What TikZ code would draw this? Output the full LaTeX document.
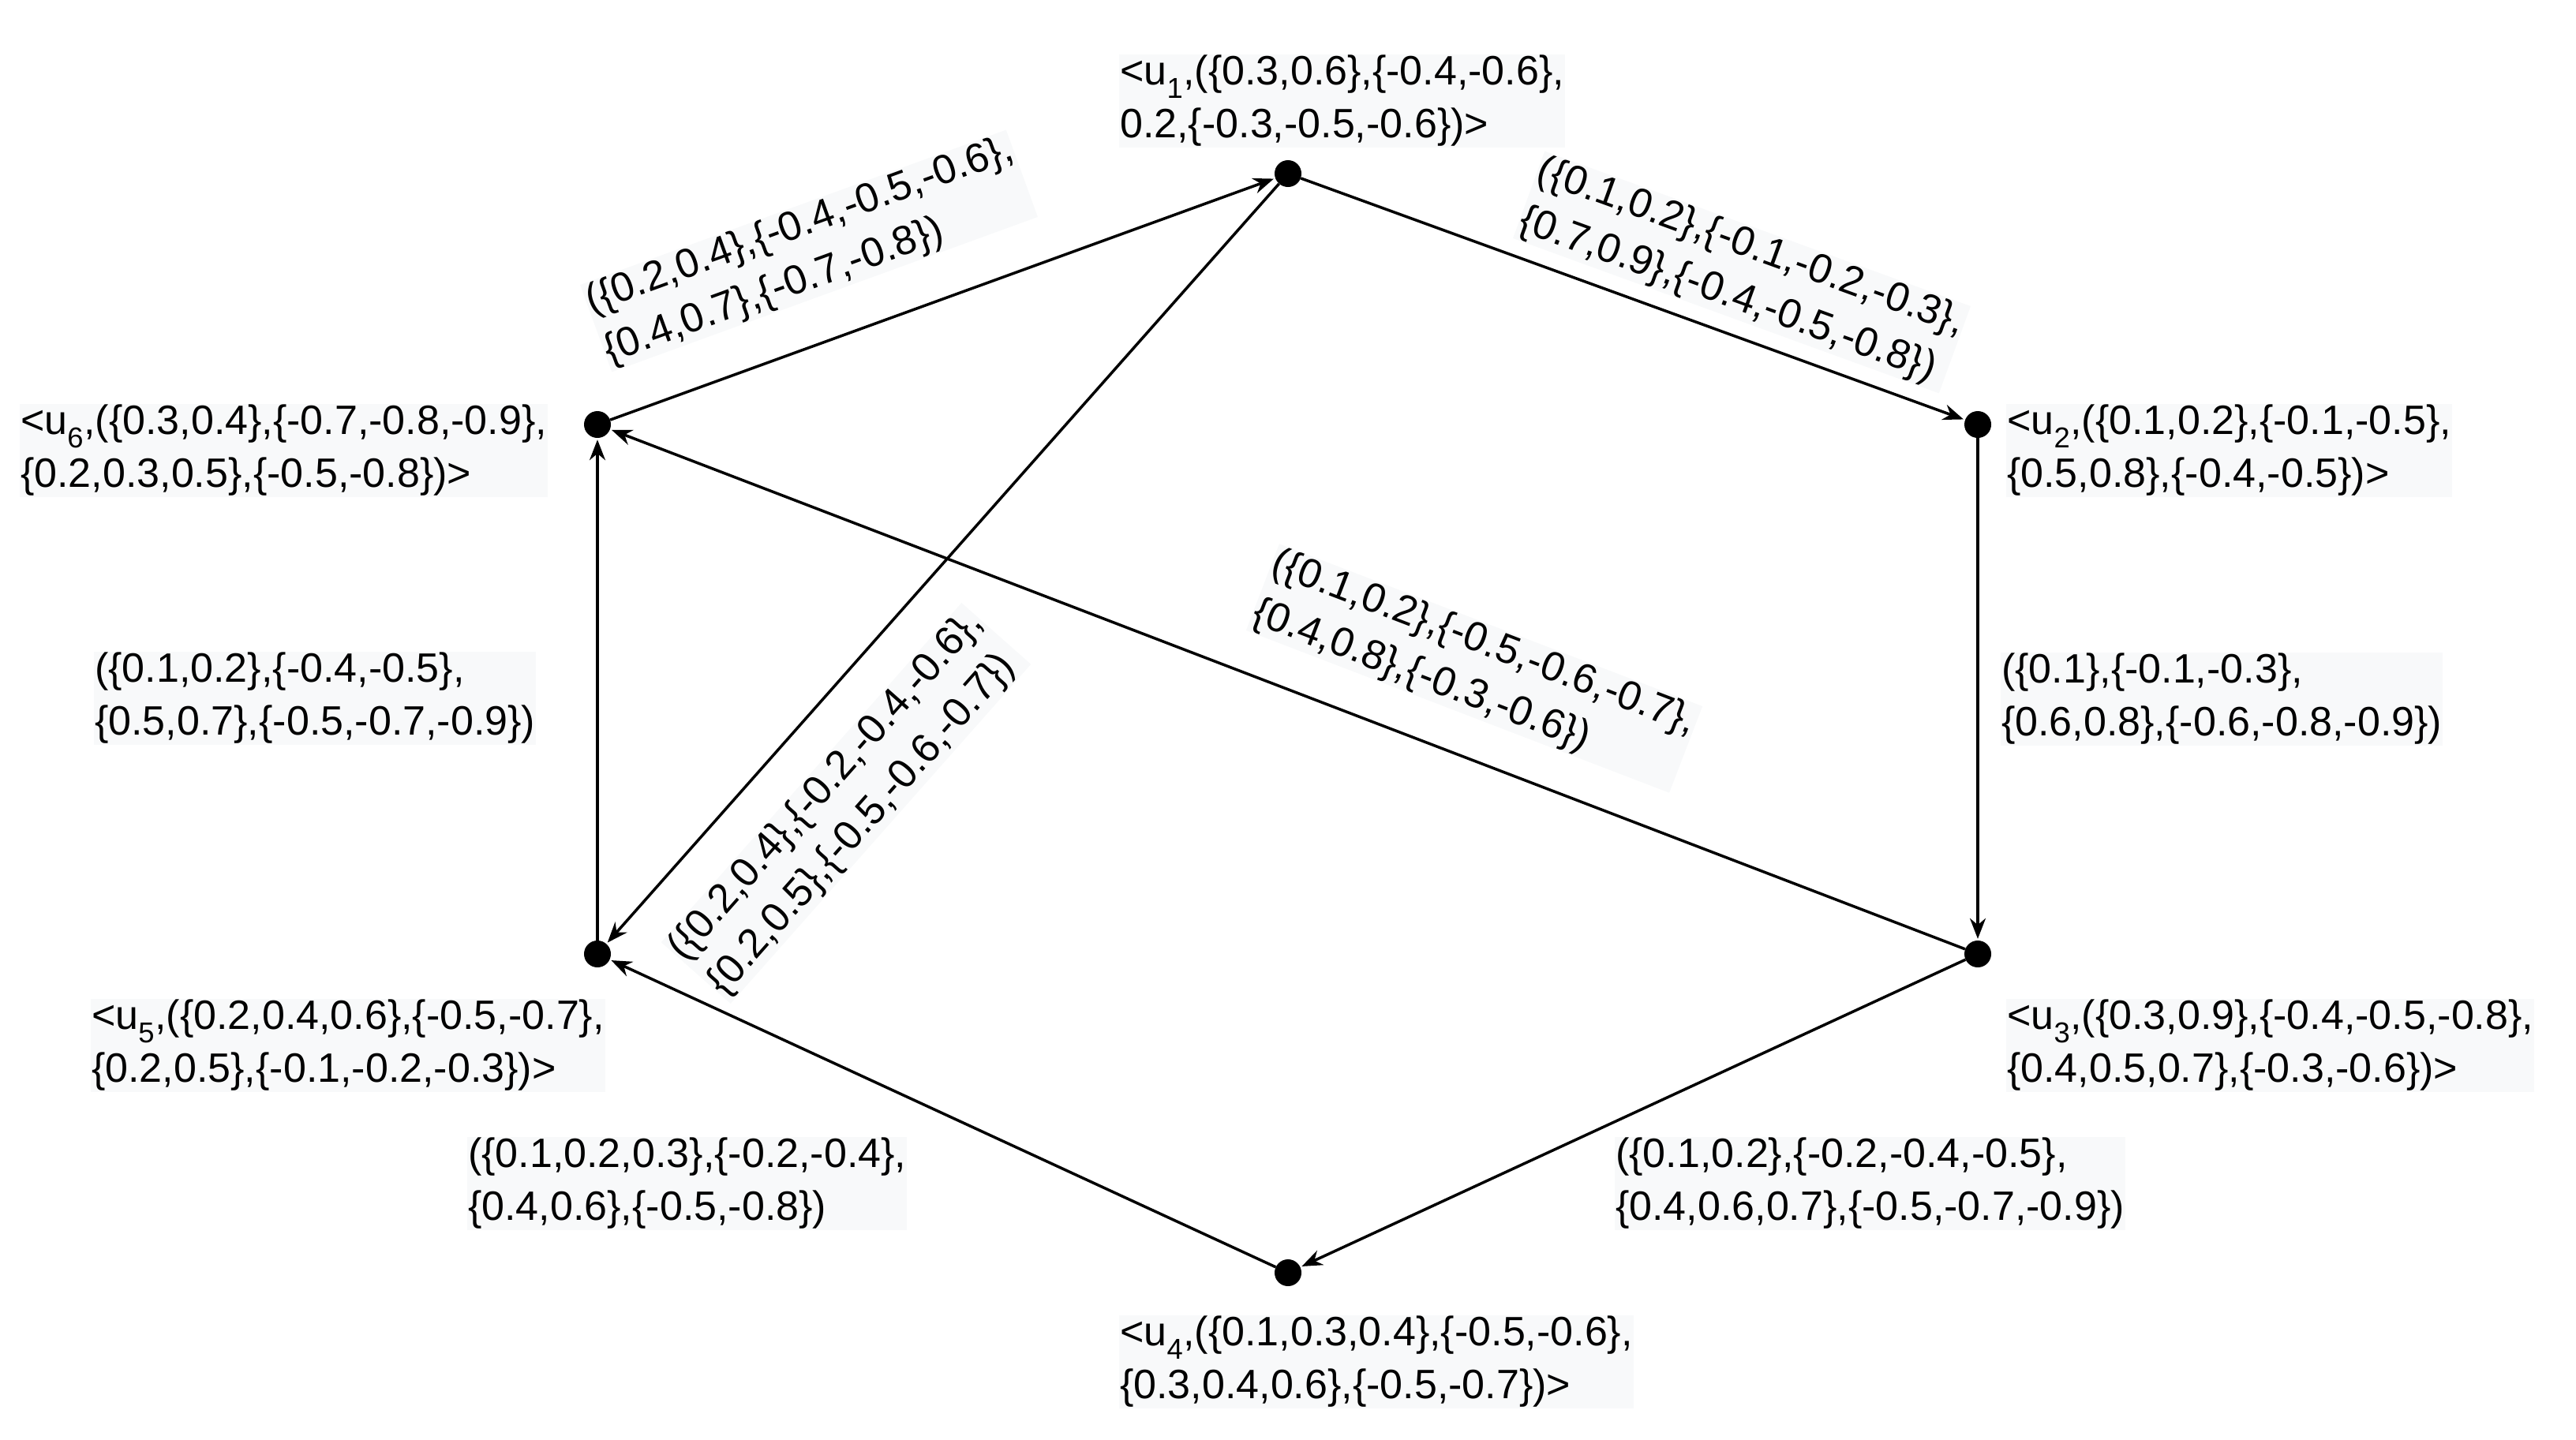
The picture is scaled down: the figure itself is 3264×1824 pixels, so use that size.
\documentclass[tikz,border=0pt]{standalone}
\usepackage{fontspec}
\setmainfont{Liberation Sans}
\usetikzlibrary{arrows.meta}
\definecolor{lbg}{HTML}{F8F9FA}
\begin{document}
\begin{tikzpicture}[x=1pt,y=-1pt,
  vtx/.style={circle,fill=black,inner sep=0pt,minimum size=34pt},
  edge/.style={line width=3.5pt,-{Stealth[length=26pt,width=20pt]},shorten >=2pt},
  lbl/.style={fill=lbg,inner sep=1pt,align=left,font=\fontsize{52}{67}\selectfont}]
\useasboundingbox (0,0) rectangle (3264,1824);
\node[vtx] (u1) at (1632,220) {};
\node[vtx] (u2) at (2506,538) {};
\node[vtx] (u3) at (2506,1209) {};
\node[vtx] (u4) at (1632,1613) {};
\node[vtx] (u5) at (757,1209) {};
\node[vtx] (u6) at (757,538) {};
\node[lbl,anchor=west] (l1) at (1418,128) {<u\textsubscript{1},(\{0.3,0.6\},\{-0.4,-0.6\},\\0.2,\{-0.3,-0.5,-0.6\})>};
\node[lbl,anchor=west] (l2) at (2542,571) {<u\textsubscript{2},(\{0.1,0.2\},\{-0.1,-0.5\},\\\{0.5,0.8\},\{-0.4,-0.5\})>};
\node[lbl,anchor=west] (l3) at (2542,1325) {<u\textsubscript{3},(\{0.3,0.9\},\{-0.4,-0.5,-0.8\},\\\{0.4,0.5,0.7\},\{-0.3,-0.6\})>};
\node[lbl,anchor=west] (l4) at (1418,1726) {<u\textsubscript{4},(\{0.1,0.3,0.4\},\{-0.5,-0.6\},\\\{0.3,0.4,0.6\},\{-0.5,-0.7\})>};
\node[lbl,anchor=west] (l5) at (115,1325) {<u\textsubscript{5},(\{0.2,0.4,0.6\},\{-0.5,-0.7\},\\\{0.2,0.5\},\{-0.1,-0.2,-0.3\})>};
\node[lbl,anchor=west] (l6) at (25,571) {<u\textsubscript{6},(\{0.3,0.4\},\{-0.7,-0.8,-0.9\},\\\{0.2,0.3,0.5\},\{-0.5,-0.8\})>};
\node[lbl,rotate=20] (e61) at (1025,318) {(\{0.2,0.4\},\{-0.4,-0.5,-0.6\},\\\{0.4,0.7\},\{-0.7,-0.8\})};
\node[lbl,rotate=-20] (e12) at (2207,345) {(\{0.1,0.2\},\{-0.1,-0.2,-0.3\},\\\{0.7,0.9\},\{-0.4,-0.5,-0.8\})};
\node[lbl,anchor=west] (e23) at (2535,886) {(\{0.1\},\{-0.1,-0.3\},\\\{0.6,0.8\},\{-0.6,-0.8,-0.9\})};
\node[lbl,rotate=-21] (e36) at (1868,847) {(\{0.1,0.2\},\{-0.5,-0.6,-0.7\},\\\{0.4,0.8\},\{-0.3,-0.6\})};
\node[lbl,rotate=48.5] (e15) at (1072,1018) {(\{0.2,0.4\},\{-0.2,-0.4,-0.6\},\\\{0.2,0.5\},\{-0.5,-0.6,-0.7\})};
\node[lbl,anchor=west] (e65) at (119,885) {(\{0.1,0.2\},\{-0.4,-0.5\},\\\{0.5,0.7\},\{-0.5,-0.7,-0.9\})};
\node[lbl,anchor=west] (e45) at (592,1500) {(\{0.1,0.2,0.3\},\{-0.2,-0.4\},\\\{0.4,0.6\},\{-0.5,-0.8\})};
\node[lbl,anchor=west] (e34) at (2046,1500) {(\{0.1,0.2\},\{-0.2,-0.4,-0.5\},\\\{0.4,0.6,0.7\},\{-0.5,-0.7,-0.9\})};
\draw[edge] (u1) -- (u2);
\draw[edge] (u2) -- (u3);
\draw[edge] (u3) -- (u4);
\draw[edge] (u4) -- (u5);
\draw[edge] (u5) -- (u6);
\draw[edge] (u6) -- (u1);
\draw[edge] (u3) -- (u6);
\draw[edge] (u1) -- (u5);
\end{tikzpicture}
\end{document}
